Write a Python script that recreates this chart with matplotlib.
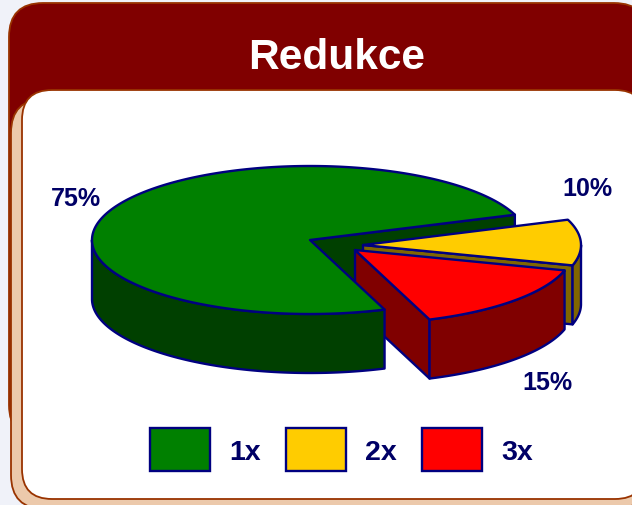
# -*- coding: utf-8 -*-
"""Redukce - 3D kolac na karte s tmavocervenou hlavickou."""
import numpy as np
import matplotlib
matplotlib.use("Agg")
import matplotlib.pyplot as plt
from matplotlib.patches import FancyBboxPatch, Polygon, Rectangle

plt.rcParams["font.family"] = ["Liberation Sans", "DejaVu Sans"]

title = "Redukce"
categories = ["1x", "2x", "3x"]
shares = [75, 10, 15]
labels = ["75%", "10%", "15%"]

top_colors = ["#008000", "#ffcc00", "#ff0000"]
side_colors = ["#004000", "#806600", "#800000"]
line = "#000080"
text_col = "#000066"

# stred, poloosy a vyska kolace v pixelech
RX, RY, DEPTH = 218, 74, 59
centers = [(310, 241), (363, 246), (355, 251)]
START = 290  # prvni vysec zacina tady a jde po smeru hodin


def edge(c, a):
    a = np.radians(a)
    return c[0] + RX * np.cos(a), c[1] - RY * np.sin(a)


def arc(c, a0, a1, dy=0):
    n = max(int(abs(a1 - a0)) * 2, 2)
    return [(edge(c, a)[0], edge(c, a)[1] + dy) for a in np.linspace(a0, a1, n)]


def poly(ax, pts, color, z):
    ax.add_patch(Polygon(pts, closed=True, fc=color, ec=line, lw=1.7, joinstyle="round", zorder=z))


def wall(ax, c, a, color, z):
    e = edge(c, a)
    poly(ax, [c, e, (e[0], e[1] + DEPTH), (c[0], c[1] + DEPTH)], color, z)


def card(ax, x0, y0, x1, y1, r, fc, z):
    ax.add_patch(FancyBboxPatch((x0 + r, y0 + r), x1 - x0 - 2 * r, y1 - y0 - 2 * r,
                                boxstyle="round,pad={},rounding_size={}".format(r, r),
                                fc=fc, ec="#993300", lw=1.3, zorder=z))


fig = plt.figure(figsize=(6.32, 5.06), dpi=100, facecolor="#f0f2f9")
ax = fig.add_axes([0, 0, 1, 1])
ax.set_xlim(0, 632)
ax.set_ylim(506, 0)
ax.axis("off")

# karta
card(ax, 9, 4, 648, 440, 34, "#800000", 1)
card(ax, 11, 100, 648, 510, 34, "#ecc9ab", 2)
card(ax, 22, 91, 645, 500, 30, "#ffffff", 3)
ax.text(337, 58, title, color="white", fontsize=30.5, fontweight="bold",
        ha="center", va="center", zorder=4)

# uhly vyseci, po smeru hodin od START
sweep = [s * 3.6 for s in shares]
g_end = START - sweep[0]          # 20 stupnu
y_end = g_end - sweep[1]          # -16 stupnu
r_end = y_end - sweep[2]          # -70 stupnu

cg, cy, cr = centers

# zelena vnitrni stena
wall(ax, cg, g_end, side_colors[0], 5)

# zluta
wall(ax, cy, y_end, side_colors[1], 6)
poly(ax, arc(cy, y_end, 0) + arc(cy, 0, y_end, DEPTH), side_colors[1], 6)
poly(ax, [cy] + arc(cy, y_end, g_end), top_colors[1], 7)

# cervena
wall(ax, cr, r_end, side_colors[2], 8)
poly(ax, arc(cr, r_end, y_end) + arc(cr, y_end, r_end, DEPTH), side_colors[2], 8)
poly(ax, [cr] + arc(cr, r_end, y_end), top_colors[2], 9)

# zelena vrsek a vnejsi stena
poly(ax, arc(cg, 180, START) + arc(cg, START, 180, DEPTH), side_colors[0], 10)
poly(ax, [cg] + arc(cg, g_end, START), top_colors[0], 11)

# popisky
for txt, (x, y) in zip(labels, [(76, 199), (587, 189), (547, 383)]):
    ax.text(x, y, txt, color=text_col, fontsize=18, fontweight="bold",
            ha="center", va="center", zorder=12)

# legenda
for i, cat in enumerate(categories):
    x = 150 + i * 136
    ax.add_patch(Rectangle((x, 428.5), 60, 43, fc=top_colors[i], ec=line, lw=1.7, zorder=12))
    ax.text(x + 95, 453, cat, color=text_col, fontsize=20.5, fontweight="bold",
            ha="center", va="center", zorder=12)

fig.savefig("out.png", dpi=100, facecolor=fig.get_facecolor())
plt.close(fig)
